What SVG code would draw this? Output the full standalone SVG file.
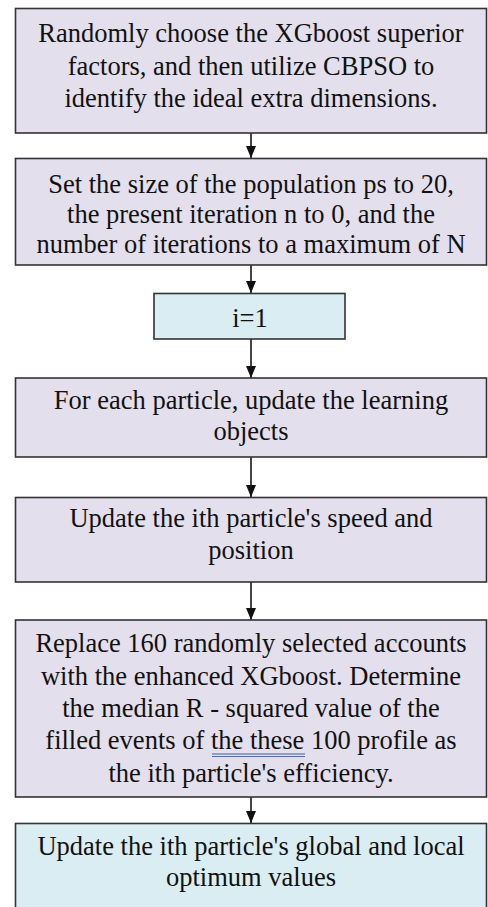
<svg xmlns="http://www.w3.org/2000/svg" width="488" height="907" viewBox="0 0 488 907">
  <style>
    .box { stroke: #333333; stroke-width: 1.6; }
    .lav { fill: #e4dfec; }
    .blu { fill: #daedf3; }
    .lbl { font-family: "Liberation Serif", "Times New Roman", serif; font-size: 26.5px; fill: #111111; text-anchor: middle; }
    .edge { stroke: #333333; stroke-width: 1.8; fill: none; marker-end: url(#head); }
  </style>
  <defs>
    <!-- arrowhead drawn along +x so orient="auto" turns it to follow the line -->
    <marker id="head" markerWidth="12" markerHeight="10" refX="12" refY="5" orient="auto" markerUnits="userSpaceOnUse" viewBox="0 0 12 10">
      <path d="M0,0 L12,5 L0,10 Z" fill="#111111"/>
    </marker>
  </defs>
  <rect width="488" height="907" fill="#ffffff"/>

  <g id="connectors">
    <line class="edge" x1="251" y1="133" x2="251" y2="158"/>
    <line class="edge" x1="251" y1="265" x2="251" y2="293"/>
    <line class="edge" x1="251" y1="339" x2="251" y2="378"/>
    <line class="edge" x1="251" y1="457" x2="251" y2="497"/>
    <line class="edge" x1="251" y1="582" x2="251" y2="620"/>
    <line class="edge" x1="251" y1="797" x2="251" y2="823"/>
  </g>

  <g id="select-factors">
    <rect class="box lav" x="15.5" y="8.5" width="471" height="124.5"/>
    <text class="lbl" x="251" y="42">Randomly choose the XGboost superior</text>
    <text class="lbl" x="251" y="75">factors, and then utilize CBPSO to</text>
    <text class="lbl" x="251" y="107">identify the ideal extra dimensions.</text>
  </g>

  <g id="init-population">
    <rect class="box lav" x="15.5" y="158.5" width="471" height="106.5"/>
    <text class="lbl" x="251" y="193">Set the size of the population ps to 20,</text>
    <text class="lbl" x="251" y="223">the present iteration n to 0, and the</text>
    <text class="lbl" x="251" y="253">number of iterations to a maximum of N</text>
  </g>

  <g id="set-i">
    <rect class="box blu" x="154" y="293.5" width="191" height="45.5"/>
    <text class="lbl" x="250" y="327">i=1</text>
  </g>

  <g id="update-learning">
    <rect class="box lav" x="15.5" y="378" width="471" height="79"/>
    <text class="lbl" x="251" y="409">For each particle, update the learning</text>
    <text class="lbl" x="251" y="440">objects</text>
  </g>

  <g id="update-speed">
    <rect class="box lav" x="15.5" y="497.5" width="471" height="84.5"/>
    <text class="lbl" x="251" y="527">Update the ith particle's speed and</text>
    <text class="lbl" x="251" y="559">position</text>
  </g>

  <g id="evaluate">
    <rect class="box lav" x="15.5" y="620" width="471" height="177"/>
    <text class="lbl" x="251" y="652">Replace 160 randomly selected accounts</text>
    <text class="lbl" x="251" y="685">with the enhanced XGboost. Determine</text>
    <text class="lbl" x="251" y="717">the median R - squared value of the</text>
    <text class="lbl" x="251" y="749">filled events of the these 100 profile as</text>
    <text class="lbl" x="251" y="782">the ith particle's efficiency.</text>
    <line x1="212" y1="754" x2="305" y2="754" stroke="#4a5f9a" stroke-width="1"/>
    <line x1="212" y1="756.5" x2="305" y2="756.5" stroke="#3a6fe0" stroke-width="1"/>
  </g>

  <g id="update-optimum">
    <rect class="box blu" x="15.5" y="823.5" width="471" height="90"/>
    <text class="lbl" x="251" y="855">Update the ith particle's global and local</text>
    <text class="lbl" x="251" y="886">optimum values</text>
  </g>
</svg>
